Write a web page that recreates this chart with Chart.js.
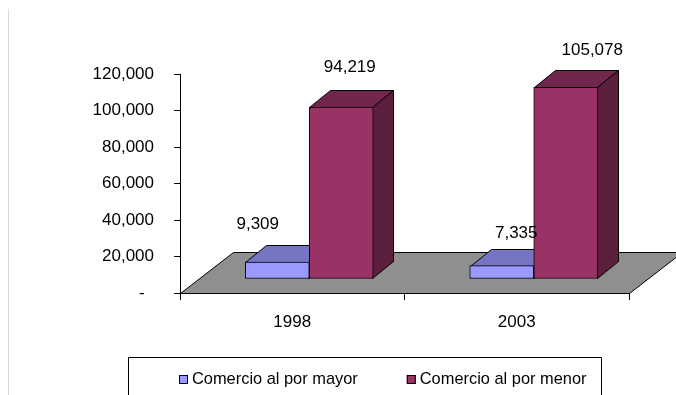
<!DOCTYPE html>
<html>
<head>
<meta charset="utf-8">
<script src="https://cdn.jsdelivr.net/npm/chart.js@4"></script>
<style>
  html, body { margin: 0; padding: 0; background: #fff; }
  canvas { display: block; }
</style>
</head>
<body>
<canvas id="myChart" width="676" height="395"></canvas>
<script>
const labels = ["1998", "2003"];
const mayor = [9309, 7335];
const menor = [94219, 105078];
const yTicks = [0, 20000, 40000, 60000, 80000, 100000, 120000];

const FONT = "'Liberation Sans', Arial, sans-serif";

// bars stand halfway back on the floor, so their front faces are pushed by this
const shift = { x: 17, y: -14 };
// depth of a single bar, and of the whole floor
const depth = { x: 21, y: -17 };
const floorDepth = { x: 53, y: -41 };

const faceColors = [
  { top: "#7575c4", side: "#5c5c99" },
  { top: "#73264d", side: "#5c1f3d" },
];

// where each value label sits relative to the middle of the bar's top face
const labelNudge = [
  [[-30, -38], [4, -32]],
  [[-2, -40], [16, -37]],
];

const fmt = (v) => v.toLocaleString("en-US");

function poly(ctx, pts, fill) {
  ctx.beginPath();
  ctx.moveTo(pts[0][0], pts[0][1]);
  for (let i = 1; i < pts.length; i++) ctx.lineTo(pts[i][0], pts[i][1]);
  ctx.closePath();
  ctx.fillStyle = fill;
  ctx.fill();
  ctx.stroke();
}

function barBox(bar) {
  const { x, y, base, width } = bar.getProps(["x", "y", "base", "width"], true);
  return {
    x, y,
    x0: Math.round(x - width / 2) + 0.5,
    x1: Math.round(x + width / 2) - 0.5,
    t: Math.round(y) + 0.5,
    b: Math.round(base) - 0.5,
  };
}

const bars3d = {
  id: "bars3d",
  beforeDraw(chart) {
    const ctx = chart.ctx;
    // thin frame line at the left of the sheet
    ctx.save();
    ctx.strokeStyle = "#dadada";
    ctx.lineWidth = 1;
    ctx.beginPath();
    ctx.moveTo(8.5, 9);
    ctx.lineTo(8.5, chart.height);
    ctx.stroke();
    ctx.restore();
  },
  beforeDatasetsDraw(chart) {
    const { ctx, chartArea: a } = chart;
    const L = Math.round(a.left) + 0.5;
    const R = Math.round(a.right) + 0.5;
    const B = Math.round(a.bottom) + 0.5;
    ctx.save();
    ctx.strokeStyle = "#000";
    ctx.lineWidth = 1;
    poly(ctx, [
      [L, B], [R, B],
      [R + floorDepth.x, B + floorDepth.y],
      [L + floorDepth.x, B + floorDepth.y],
    ], "#8f8f8f");

    // top and side faces go down first; the front faces drawn by the
    // bar controller then cover whatever a neighbour's faces overlap
    ctx.translate(shift.x, shift.y);
    chart.data.datasets.forEach((ds, di) => {
      const c = faceColors[di];
      chart.getDatasetMeta(di).data.forEach((bar) => {
        const { x0, x1, t, b } = barBox(bar);
        poly(ctx, [[x0, t], [x1, t], [x1 + depth.x, t + depth.y], [x0 + depth.x, t + depth.y]], c.top);
        poly(ctx, [[x1, t], [x1 + depth.x, t + depth.y], [x1 + depth.x, b + depth.y], [x1, b]], c.side);
      });
    });
    ctx.restore();
  },
  beforeDatasetDraw(chart) {
    chart.ctx.save();
    chart.ctx.translate(shift.x, shift.y);
  },
  afterDatasetDraw(chart) {
    chart.ctx.restore();
  },
  afterDatasetsDraw(chart) {
    const ctx = chart.ctx;
    ctx.save();
    ctx.translate(shift.x, shift.y);
    ctx.fillStyle = "#000";
    ctx.font = "17px " + FONT;
    ctx.textAlign = "center";
    ctx.textBaseline = "middle";
    chart.data.datasets.forEach((ds, di) => {
      chart.getDatasetMeta(di).data.forEach((bar, i) => {
        const { x, y } = barBox(bar);
        const n = labelNudge[di][i];
        ctx.fillText(fmt(ds.data[i]), x + depth.x / 2 + n[0], y + n[1]);
      });
    });
    ctx.restore();
  },
  afterDraw(chart) {
    // legend in an open-bottom frame
    const ctx = chart.ctx;
    const box = { left: 128.5, top: 357.5, right: 601.5 };
    ctx.save();
    ctx.strokeStyle = "#000";
    ctx.lineWidth = 1;
    ctx.beginPath();
    ctx.moveTo(box.left, chart.height + 2);
    ctx.lineTo(box.left, box.top);
    ctx.lineTo(box.right, box.top);
    ctx.lineTo(box.right, chart.height + 2);
    ctx.stroke();

    ctx.font = "16.4px " + FONT;
    ctx.textAlign = "left";
    ctx.textBaseline = "middle";
    const gap = 49;
    const cy = 379;
    let px = 179;
    chart.data.datasets.forEach((ds) => {
      ctx.fillStyle = ds.backgroundColor;
      ctx.fillRect(px, cy - 4, 9, 9);
      ctx.strokeRect(px + 0.5, cy - 3.5, 8, 8);
      ctx.fillStyle = "#000";
      ctx.fillText(ds.label, px + 13, cy);
      px += 13 + ctx.measureText(ds.label).width + gap;
    });
    ctx.restore();
  },
};

const ctx = document.querySelector("#myChart").getContext("2d");

const data = {
  labels,
  datasets: [
    {
      label: "Comercio al por mayor",
      data: mayor,
      backgroundColor: "#9999ff",
      borderColor: "#000",
      borderWidth: 1,
      borderSkipped: false,
    },
    {
      label: "Comercio al por menor",
      data: menor,
      backgroundColor: "#993366",
      borderColor: "#000",
      borderWidth: 1,
      borderSkipped: false,
    },
  ],
};

const config = {
  type: "bar",
  data: data,
  options: {
    responsive: false,
    animation: false,
    devicePixelRatio: 1,
    layout: {
      padding: { left: 0, right: 47, top: 74, bottom: 62 },
    },
    datasets: {
      bar: { barThickness: 64, clip: false },
    },
    plugins: {
      legend: { display: false },
      tooltip: { enabled: false },
    },
    scales: {
      x: {
        grid: {
          offset: true,
          drawOnChartArea: false,
          color: "#000",
          tickLength: 7,
        },
        border: { color: "#000" },
        ticks: {
          color: "#000",
          font: { family: FONT, size: 17 },
          padding: 12,
        },
        afterFit: (scale) => { scale.height = 40; },
      },
      y: {
        min: yTicks[0],
        max: yTicks[yTicks.length - 1],
        grid: {
          drawOnChartArea: false,
          color: "#000",
          tickLength: 6,
        },
        border: { color: "#000" },
        ticks: {
          stepSize: yTicks[1] - yTicks[0],
          color: "#000",
          font: { family: FONT, size: 17 },
          padding: 20,
          callback: function (value) {
            return value === 0 ? "-  " : fmt(value);
          },
        },
        afterFit: (scale) => { scale.width = 180; },
      },
    },
  },
  plugins: [bars3d],
};

const myChart = new Chart(ctx, config);
</script>
</body>
</html>
